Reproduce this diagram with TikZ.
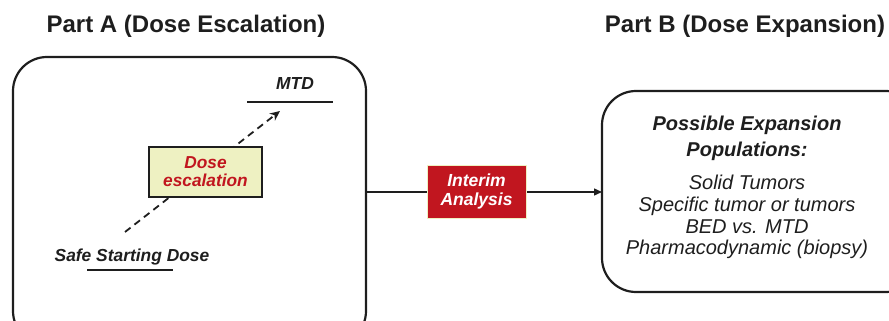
\documentclass[tikz,border=0pt]{standalone}
\usepackage{fontspec}
\setmainfont{Liberation Sans}
\usetikzlibrary{arrows.meta}
\definecolor{boxred}{HTML}{C1161F}
\definecolor{boxcream}{HTML}{EEF1C2}
\definecolor{ink}{HTML}{1E1E1E}
\tikzset{
  panel/.style={draw=ink, line width=2.2pt, rounded corners=34pt},
  heading/.style={font=\fontsize{24}{28}\selectfont\bfseries, text=ink},
  label/.style={font=\fontsize{17.4}{20}\selectfont\bfseries\itshape, text=ink, inner sep=0pt},
  level/.style={draw=ink, line width=2.6pt},
  escbox/.style={draw=ink, line width=1.4pt, fill=boxcream, minimum width=113pt, minimum height=50pt,
    align=center, text=boxred, font=\fontsize{17.3}{19}\selectfont\bfseries\itshape},
  interim/.style={draw=boxcream, line width=1pt, fill=boxred, minimum width=99pt, minimum height=53pt,
    align=center, text=white, font=\fontsize{17.5}{18.5}\selectfont\bfseries\itshape},
  link/.style={draw=ink, line width=1.4pt},
  poptitle/.style={align=center, inner sep=0pt, text=ink, font=\fontsize{20}{26}\selectfont\bfseries\itshape},
  poplist/.style={align=center, inner sep=0pt, text=ink, font=\fontsize{20}{21.7}\selectfont\itshape},
}
\begin{document}
\begin{tikzpicture}[x=1pt,y=-1pt]
\useasboundingbox (0,0) rectangle (889,321);
\begin{scope}
\clip (0,0) rectangle (889,321);
% panels
\draw[panel] (13,57) rectangle (366,345);
\draw[panel] (602,91) rectangle (920,292);
\end{scope}
\coordinate (pA) at (366,192);
\coordinate (pB) at (602,192);

% headings
\node[heading] (hA) at (186,26) {Part A (Dose Escalation)};
\node[heading] (hB) at (745,26) {Part B (Dose Expansion)};

% dose levels
\coordinate (mtdL) at (247,102);
\coordinate (mtdR) at (333,102);
\draw[level] (mtdL) -- (mtdR);
\node[label] (mtd) at (295,84) {MTD};
\coordinate (safeL) at (87,270);
\coordinate (safeR) at (173,270);
\draw[level] (safeL) -- (safeR);
\node[label] (safe) at (132,257) {Safe Starting Dose};

% escalation path
\coordinate (esc0) at (125,232);
\coordinate (esc1) at (280,111);
\draw[ink, line width=1.8pt, dash pattern=on 7pt off 5pt, -{Stealth[length=10pt,width=9pt]}] (esc0) -- (esc1);
\node[escbox] (esc) at (205.5,172) {Dose\\[-1pt]escalation};

% interim analysis link
\draw[link, -{Triangle[length=8pt,width=7pt]}] (pA) -- (pB);
\node[interim] (ia) at (476.5,191.5) {Interim\\Analysis};

% expansion populations
\node[poptitle] (popT) at (747,138) {Possible Expansion\\Populations:};
\node[poplist] (popL) at (747,217) {Solid Tumors\\Specific tumor or tumors\\BED vs. MTD\\Pharmacodynamic (biopsy)};
\end{tikzpicture}
\end{document}
